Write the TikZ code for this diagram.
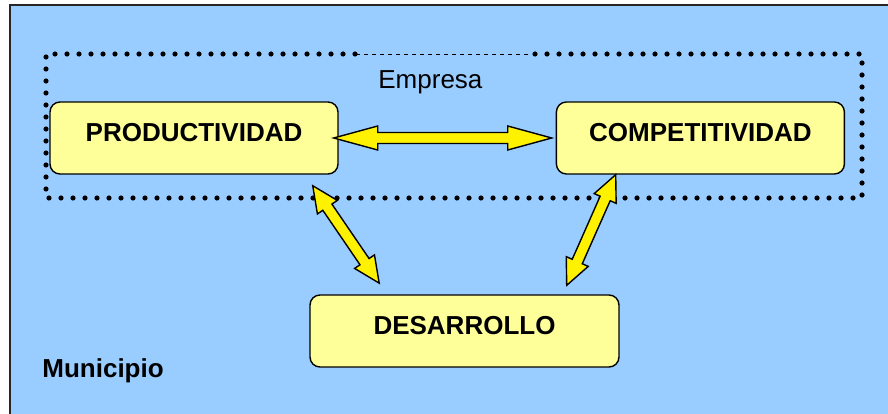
\documentclass[tikz,border=0pt]{standalone}
\usepackage{fontspec}
\setmainfont{Liberation Sans}
\usepackage{tikz}
\usetikzlibrary{positioning,calc}

\definecolor{bgblue}{HTML}{99CCFF}
\definecolor{boxyellow}{HTML}{FFFF99}

% fat double arrow between two points, #1 = head length
\newcommand{\dblarrow}[3][26pt]{%
    \path[draw=black, line width=1.4pt, fill=yellow, line join=miter]
        let \p1=($(#3)-(#2)$), \n1={atan2(\y1,\x1)}, \n2={veclen(\x1,\y1)} in
        [shift={(#2)}, rotate=\n1]
        (0pt,0pt) -- (#1,12pt) -- (#1,5.5pt) -- ({\n2-#1},5.5pt) -- ({\n2-#1},12pt)
        -- (\n2,0pt) -- ({\n2-#1},-12pt) -- ({\n2-#1},-5.5pt) -- (#1,-5.5pt)
        -- (#1,-12pt) -- cycle;%
}

\begin{document}
\begin{tikzpicture}[
    x=1pt, y=-1pt,
    thick,
    box/.style={
        rectangle,
        draw=black,
        line width=1.4pt,
        minimum width=288pt,
        minimum height=72pt,
        inner sep=0pt,
        text height=19pt,
        text depth=12pt,
        rounded corners=10pt,
        fill=boxyellow,
        font=\fontsize{26}{30}\selectfont\bfseries
    },
    dots/.style={
        line width=5.2pt,
        line cap=round,
        dash pattern=on 0pt off 12pt
    },
    label/.style={
        inner sep=0pt,
        font=\fontsize{26}{30}\selectfont
    }
]
    \useasboundingbox (0,0) rectangle (888,414);

    % Municipio background
    \draw[fill=bgblue, draw=black!85, line width=1.5pt] (10,5) rectangle (900,430);

    % Empresa frame
    \coordinate (empL) at (355,54);
    \coordinate (empR) at (528,54);
    \draw[dots] (empL) -| (46,198) -| (862,54) -- (empR);
    \draw[line width=0.8pt, dash pattern=on 4pt off 4pt] (empR) -- (empL);
    \node[label, anchor=base west] (empresa) at (378,89) {Empresa};

    % Main boxes
    \node[box] (prod) at (194,138) {PRODUCTIVIDAD};
    \node[box, right=217pt of prod] (comp) {COMPETITIVIDAD};
    \node[box, minimum width=309pt] (desa) at (464.5,331) {DESARROLLO};

    \node[label, font=\fontsize{26}{30}\selectfont\bfseries, anchor=base west]
        (muni) at (42,377) {Municipio};

    % Arrow ends
    \coordinate (h1) at ($(prod.east)+(-5,0)$);
    \coordinate (h2) at ($(comp.west)+(-4,0)$);
    \coordinate (l1) at ($(prod.south east)+(-26,11)$);
    \coordinate (l2) at ($(desa.north west)+(70,-11)$);
    \coordinate (r1) at ($(comp.south west)+(60,0)$);
    \coordinate (r2) at ($(desa.north east)+(-53,-9)$);

    % Connect with double arrows
    \dblarrow[44pt]{h1}{h2}
    \dblarrow{l1}{l2}
    \dblarrow{r1}{r2}
\end{tikzpicture}
\end{document}
